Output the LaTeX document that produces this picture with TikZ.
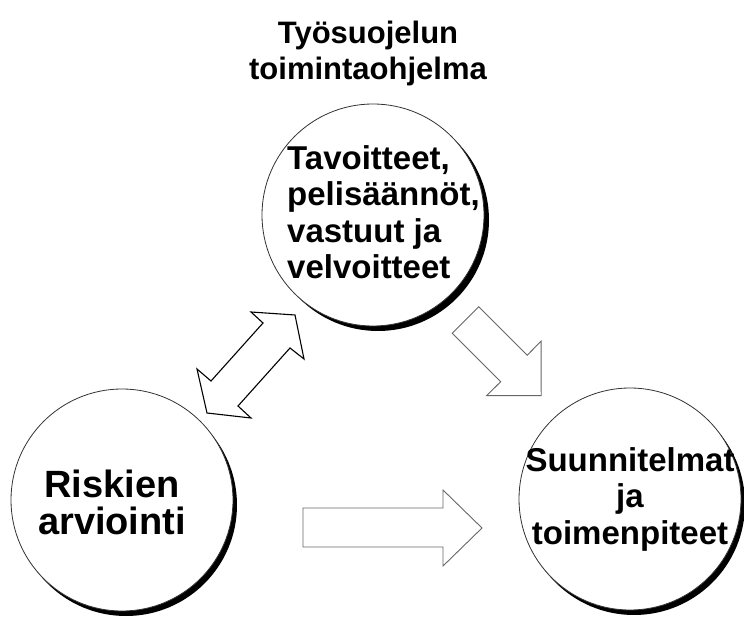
\documentclass[tikz,border=0pt]{standalone}
\usepackage{fontspec}
\setmainfont{Liberation Sans}
\begin{document}
\begin{tikzpicture}[x=1pt,y=-1pt]
\tikzset{
  bubble/.style={circle, draw=black!80, line width=0.8pt, fill=white, minimum size=222pt, inner sep=0pt},
  dropshade/.style={circle, fill=black, minimum size=222pt, inner sep=0pt},
  bodytext/.style={font=\bfseries\fontsize{33}{36.5}\selectfont, text=black, inner sep=0pt},
  bigtext/.style={font=\bfseries\fontsize{38}{37}\selectfont, text=black, inner sep=0pt},
  titletext/.style={font=\bfseries\fontsize{31}{36}\selectfont, text=black, inner sep=0pt, align=center},
  grayarrow/.style={draw=black!60, line width=0.9pt, fill=white, line join=miter},
  blackarrow/.style={draw=black, line width=1.1pt, fill=white, line join=miter},
}
\useasboundingbox (0,0) rectangle (744,617);

% title
\node[titletext] (title) at (368,53) {Työsuojelun\\toimintaohjelma};

% shadows
\node[dropshade] (topshade) at (378,220) {};
\node[dropshade] (leftshade) at (126,505) {};
\node[dropshade] (rightshade) at (634,504) {};

% circles
\node[bubble] (top) at (373,215) {};
\node[bubble] (left) at (122,500) {};
\node[bubble] (right) at (630,499) {};

% texts
\node[bodytext, align=left, anchor=west] (toptext) at (287,212) {Tavoitteet,\\pelisäännöt,\\vastuut ja\\velvoitteet};
\node[bigtext, align=center] (lefttext) at (112,502) {Riskien\\arviointi};
\node[bodytext, align=center] (righttext) at (630,499) {Suunnitelmat\\ja\\toimenpiteet};

% block arrows
\draw[grayarrow] (303,508) -- (443,508) -- (443,490) -- (482,528) -- (443,566) -- (443,547) -- (303,547) -- cycle;
\draw[grayarrow] (478.8,306.7) -- (527.2,355.2) -- (541.1,341.2) -- (541.2,395.7) -- (486.7,395.6) -- (500.7,381.7) -- (452.2,333.3) -- cycle;
\draw[blackarrow] (295,315) -- (304,359) -- (290,348) -- (238,406) -- (251,418) -- (207,413) -- (197,369) -- (211,381) -- (263,323) -- (251,312) -- cycle;
\end{tikzpicture}
\end{document}
